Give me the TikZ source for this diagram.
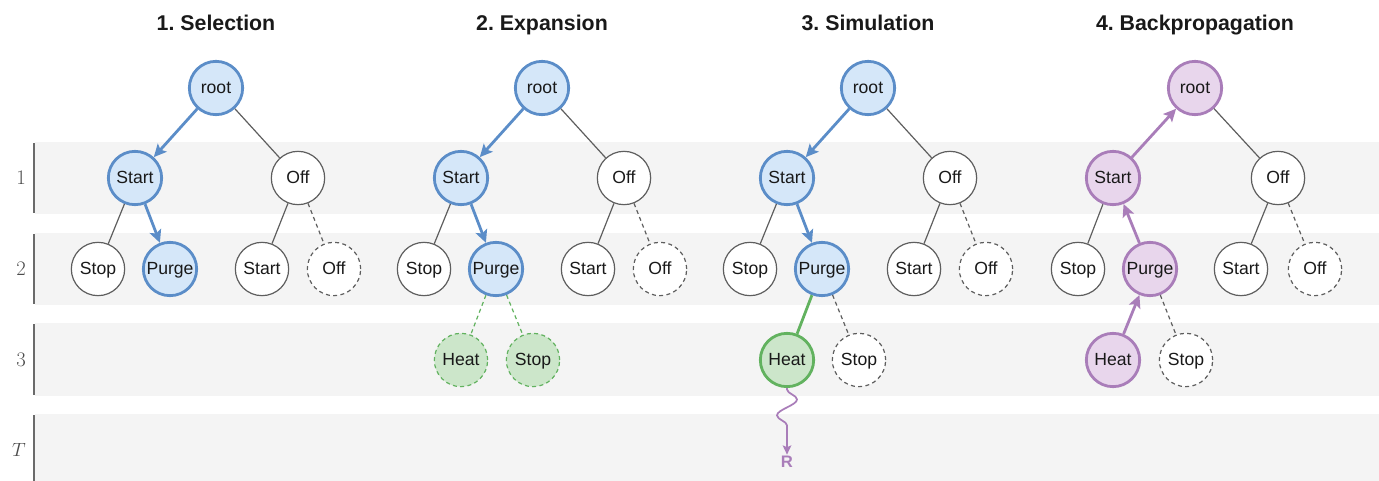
\documentclass[tikz,border=0pt]{standalone}
\usepackage{fontspec}
\newfontfamily\arialf{Liberation Sans}
\usetikzlibrary{arrows.meta,decorations.pathmorphing}
\frenchspacing

\definecolor{bandc}{HTML}{F4F4F4}
\definecolor{barc}{HTML}{6A6A6A}
\definecolor{edgec}{HTML}{5E5E5E}
\definecolor{bluel}{HTML}{5B8DC8}
\definecolor{bluef}{HTML}{D5E7F9}
\definecolor{greenl}{HTML}{62B25F}
\definecolor{greenf}{HTML}{CCE6CA}
\definecolor{purpl}{HTML}{A97DB9}
\definecolor{purpf}{HTML}{E8D6EC}

\tikzset{
  nd/.style={circle, minimum size=40pt, inner sep=0pt, draw=edgec, line width=0.9pt,
    fill=white, font=\arialf\fontsize{13.2}{14}\selectfont, text=black!90,
    text height=0.9em, text depth=0.06em},
  dnd/.style={nd, dashed, dash pattern=on 3pt off 2.5pt},
  bnd/.style={nd, draw=bluel, fill=bluef, line width=2.1pt},
  gnd/.style={nd, draw=greenl, fill=greenf, line width=2.1pt},
  gdnd/.style={nd, draw=greenl, fill=greenf, line width=0.9pt, dashed, dash pattern=on 3pt off 2.5pt},
  pnd/.style={nd, draw=purpl, fill=purpf, line width=2.1pt},
  ed/.style={draw=edgec, line width=0.9pt},
  ded/.style={ed, dashed, dash pattern=on 3pt off 2.5pt},
  barr/.style={-{Stealth[length=9.5pt,width=9pt,inset=2pt]}},
  bed/.style={draw=bluel, line width=2.1pt, barr},
  ged/.style={draw=greenl, line width=2.1pt},
  gded/.style={draw=greenl, line width=0.9pt, dashed, dash pattern=on 3pt off 2.5pt},
  ped/.style={draw=purpl, line width=2.1pt, barr},
  title/.style={anchor=base, font=\arialf\bfseries\fontsize{16}{18}\selectfont, text=black!90},
  rowlab/.style={font=\fontsize{15.5}{16}\selectfont, text=black!70},
  band/.style={fill=bandc, draw=none},
  rowbar/.style={draw=barc, line width=1.4pt},
}

\begin{document}
\begin{tikzpicture}[x=0.75pt,y=-0.75pt]
\useasboundingbox (0,0) rectangle (1379,481);

% depth bands
\fill[band] (35,142) rectangle (1379,214);
\fill[band] (35,233) rectangle (1379,305);
\fill[band] (35,323) rectangle (1379,396);
\fill[band] (35,414) rectangle (1379,481);
\draw[rowbar] (34,143) -- (34,213);
\draw[rowbar] (34,234) -- (34,304);
\draw[rowbar] (34,324) -- (34,395);
\draw[rowbar] (34,415) -- (34,481);
\node[rowlab] (l1) at (21,178) {1};
\node[rowlab] (l2) at (21,269) {2};
\node[rowlab] (l3) at (21,360) {3};
\node[rowlab] (lT) at (19,450) {$T$};

% 1. Selection
\begin{scope}[shift={(216,0)}]
\node[title] (ta) at (0,31) {1. Selection};
\node[bnd] (a0) at (0,88) {root};
\node[bnd] (a1) at (-81,178) {Start};
\node[nd]  (a2) at (82,178) {Off};
\node[nd]  (a11) at (-118,269) {Stop};
\node[bnd] (a12) at (-46,269) {Purge};
\node[nd]  (a21) at (46,269) {Start};
\node[dnd] (a22) at (118,269) {Off};
\draw[ed] (a0) -- (a2);
\draw[ed] (a1) -- (a11);
\draw[ed] (a2) -- (a21);
\draw[ded] (a2) -- (a22);
\draw[bed] (a0) -- (a1);
\draw[bed] (a1) -- (a12);
\end{scope}

% 2. Expansion
\begin{scope}[shift={(542,0)}]
\node[title] (tb) at (0,31) {2. Expansion};
\node[bnd] (b0) at (0,88) {root};
\node[bnd] (b1) at (-81,178) {Start};
\node[nd]  (b2) at (82,178) {Off};
\node[nd]  (b11) at (-118,269) {Stop};
\node[bnd] (b12) at (-46,269) {Purge};
\node[nd]  (b21) at (46,269) {Start};
\node[dnd] (b22) at (118,269) {Off};
\node[gdnd] (b121) at (-81,360) {Heat};
\node[gdnd] (b122) at (-9,360) {Stop};
\draw[ed] (b0) -- (b2);
\draw[ed] (b1) -- (b11);
\draw[ed] (b2) -- (b21);
\draw[ded] (b2) -- (b22);
\draw[gded] (b12) -- (b121);
\draw[gded] (b12) -- (b122);
\draw[bed] (b0) -- (b1);
\draw[bed] (b1) -- (b12);
\end{scope}

% 3. Simulation
\begin{scope}[shift={(868,0)}]
\node[title] (tc) at (0,31) {3. Simulation};
\node[bnd] (c0) at (0,88) {root};
\node[bnd] (c1) at (-81,178) {Start};
\node[nd]  (c2) at (82,178) {Off};
\node[nd]  (c11) at (-118,269) {Stop};
\node[bnd] (c12) at (-46,269) {Purge};
\node[nd]  (c21) at (46,269) {Start};
\node[dnd] (c22) at (118,269) {Off};
\node[gnd] (c121) at (-81,360) {Heat};
\node[dnd] (c122) at (-9,360) {Stop};
\node[font=\arialf\bfseries\fontsize{12.5}{14}\selectfont, text=purpl, inner sep=1pt] (cR) at (-81,462) {R};
\draw[ed] (c0) -- (c2);
\draw[ed] (c1) -- (c11);
\draw[ed] (c2) -- (c21);
\draw[ded] (c2) -- (c22);
\draw[ded] (c12) -- (c122);
\draw[ged] (c12) -- (c121);
\draw[bed] (c0) -- (c1);
\draw[bed] (c1) -- (c12);
\draw[draw=purpl, line width=1.3pt, -{Stealth[length=7pt,width=6.5pt,inset=1.5pt]},
      decoration={snake, amplitude=7.5pt, segment length=24pt, pre length=1pt, post length=13pt},
      decorate] (c121.south) -- (cR.north);
\end{scope}

% 4. Backpropagation
\begin{scope}[shift={(1195,0)}]
\node[title] (td) at (0,31) {4. Backpropagation};
\node[pnd] (d0) at (0,88) {root};
\node[pnd] (d1) at (-82,178) {Start};
\node[nd]  (d2) at (83,178) {Off};
\node[nd]  (d11) at (-117,269) {Stop};
\node[pnd] (d12) at (-45,269) {Purge};
\node[nd]  (d21) at (46,269) {Start};
\node[dnd] (d22) at (120,269) {Off};
\node[pnd] (d121) at (-82,360) {Heat};
\node[dnd] (d122) at (-9,360) {Stop};
\draw[ed] (d0) -- (d2);
\draw[ed] (d1) -- (d11);
\draw[ed] (d2) -- (d21);
\draw[ded] (d2) -- (d22);
\draw[ded] (d12) -- (d122);
\draw[ped] (d121) -- (d12);
\draw[ped] (d12) -- (d1);
\draw[ped] (d1) -- (d0);
\end{scope}
\end{tikzpicture}
\end{document}
